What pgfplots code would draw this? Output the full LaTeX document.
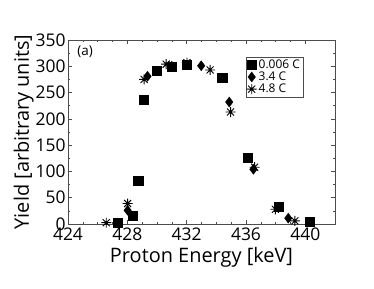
\documentclass[border=0pt]{standalone}
\usepackage{fontspec}
\setmainfont{Open Sans}
\usepackage{pgfplots}
\pgfplotsset{compat=1.18}
\pgfdeclareplotmark{star8}{%
  \pgfpathmoveto{\pgfqpoint{0pt}{\pgfplotmarksize}}\pgfpathlineto{\pgfqpoint{0pt}{-\pgfplotmarksize}}%
  \pgfpathmoveto{\pgfqpoint{\pgfplotmarksize}{0pt}}\pgfpathlineto{\pgfqpoint{-\pgfplotmarksize}{0pt}}%
  \pgfpathmoveto{\pgfqpoint{0.707\pgfplotmarksize}{0.707\pgfplotmarksize}}\pgfpathlineto{\pgfqpoint{-0.707\pgfplotmarksize}{-0.707\pgfplotmarksize}}%
  \pgfpathmoveto{\pgfqpoint{0.707\pgfplotmarksize}{-0.707\pgfplotmarksize}}\pgfpathlineto{\pgfqpoint{-0.707\pgfplotmarksize}{0.707\pgfplotmarksize}}%
  \pgfusepathqstroke}
\begin{document}
\begin{tikzpicture}
\useasboundingbox (-68bp,-65bp) rectangle (306bp,224bp);
\begin{axis}[
  at={(0,0)}, anchor=south west,
  scale only axis, width=267bp, height=184bp,
  xmin=424, xmax=442, ymin=0, ymax=350,
  xtick={424,428,...,440}, ytick={0,50,...,350},
  minor x tick num=3, minor y tick num=1,
  tick align=inside, tick pos=both,
  major tick length=4pt, minor tick length=2.5pt,
  axis line style={draw=black!70, line width=0.6pt},
  tick style={black!70, line width=0.5pt},
  /pgf/number format/assume math mode=true,
  /pgf/number format/1000 sep={},
  ticklabel style={font=\fontsize{17.5}{17.5}\selectfont},
  xticklabel style={yshift=-0.5pt},
  yticklabel style={xshift=1pt},
  xlabel={Proton Energy [keV]}, ylabel={Yield [arbitrary units]},
  label style={font=\fontsize{20}{20}\selectfont},
  xlabel style={yshift=0.5pt}, ylabel style={yshift=-5pt},
  legend style={at={(0.665,0.91)}, anchor=north west, draw=black!70, font=\fontsize{12}{12}\selectfont, inner sep=1pt, row sep=-2pt, cells={anchor=west},
    /tikz/every even column/.append style={column sep=1pt}},
  legend image code/.code={\draw plot coordinates {(0.2cm,0cm)};},
  legend cell align=left,
  clip=false,
]
\addplot[only marks, mark=square*, mark size=4.6pt, black] coordinates {
(427.36,2.5) (428.36,15) (428.73,83) (429.13,237) (429.98,292) (431.0,299) (431.98,303) (434.4,278) (436.13,126) (438.2,33) (440.3,4)
};
\addlegendentry{0.006 C}
\addplot[only marks, mark=diamond*, mark size=5pt, black] coordinates {
(428.02,26) (429.36,281) (431.0,300) (432.98,301) (434.87,232) (436.5,104) (438.85,11)
};
\addlegendentry{3.4 C}
\addplot[only marks, mark=star8, mark size=5pt, black, line width=0.9pt] coordinates {
(426.58,2.5) (428.02,39) (429.13,275) (430.62,304) (432.02,307) (433.58,293) (434.96,213) (436.58,108) (437.98,28) (439.29,6)
};
\addlegendentry{4.8 C}
\node[anchor=north west, font=\fontsize{13.5}{13.5}\selectfont] at (axis cs:424.4,346) {(a)};
\end{axis}
\end{tikzpicture}
\end{document}
